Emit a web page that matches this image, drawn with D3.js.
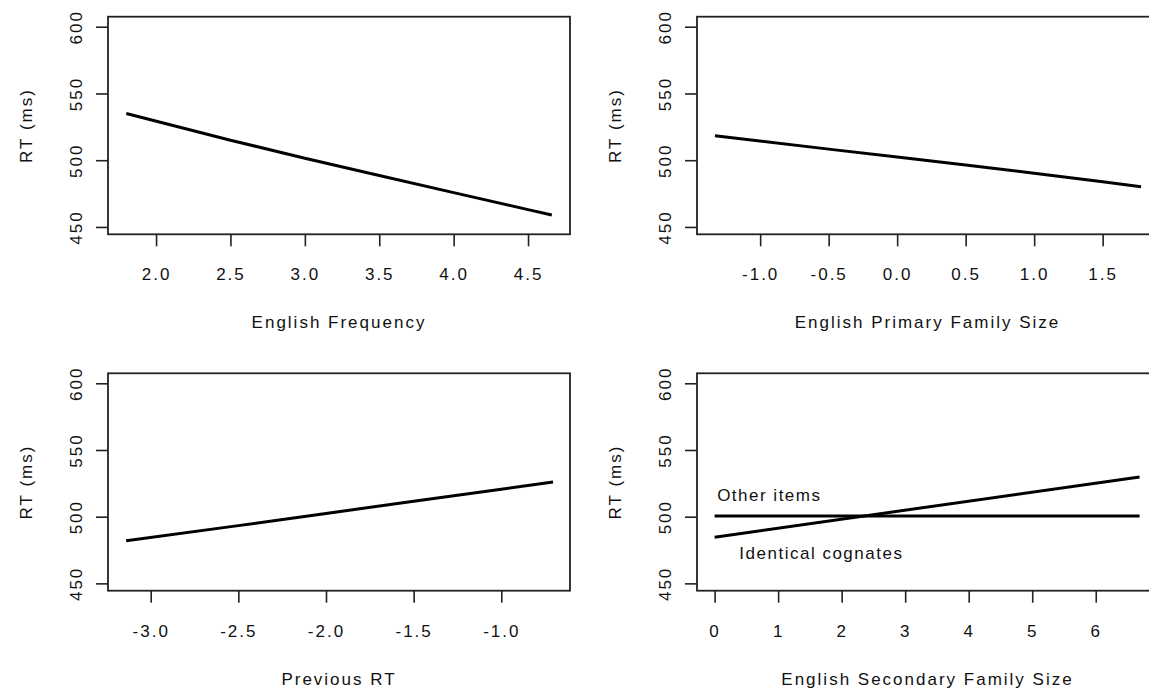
<!DOCTYPE html>
<html>
<head>
<meta charset="utf-8">
<script src="https://cdn.jsdelivr.net/npm/d3@7"></script>
<style>
  html, body { margin: 0; padding: 0; background: #fff; }
  svg { display: block; }
  text { font-family: "Liberation Sans", Arial, sans-serif; fill: #111; }
</style>
</head>
<body>
<div id="chart"></div>
<script>
// values
const yTicks = [450, 500, 550, 600];

const freqX = [1.80, 2.5, 3.0, 3.5, 4.0, 4.5, 4.66];
const freqRT = [535, 515, 501.5, 488.5, 475.7, 463, 459];
const freqTicks = [2.0, 2.5, 3.0, 3.5, 4.0, 4.5];

const primX = [-1.33, -0.5, 0.0, 0.5, 1.0, 1.5, 1.78];
const primRT = [518.4, 508.3, 502.4, 496.4, 490.2, 483.9, 480.2];
const primTicks = [-1.0, -0.5, 0.0, 0.5, 1.0, 1.5];

const prevX = [-3.14, -2.5, -2.0, -1.5, -1.0, -0.705];
const prevRT = [481.9, 493.3, 502.4, 511.6, 520.6, 526];
const prevTicks = [-3.0, -2.5, -2.0, -1.5, -1.0];

const secX = [0, 6.69];
const otherRT = [500.5, 500.5];
const identRT = [484.6, 529.8];
const secTicks = [0, 1, 2, 3, 4, 5, 6];
const secLabels = [
  {text: "Other items", x: 0.04, y: 512},
  {text: "Identical cognates", x: 0.39, y: 468.5}
];

const W = 1149, H = 692;
const svg = d3.select("#chart").append("svg")
  .attr("width", W).attr("height", H);

// plot regions (the right column runs past the picture edge, as in the original)
const cols = [{x0: 108, x1: 570}, {x0: 697, x1: 1158}];
const rows = [{y0: 16.7, y1: 234.3}, {y0: 373.3, y1: 590.7}];
const yDomain = [444.5, 607.5];

// plain hyphen for negatives, like R
const oneDec = d => d.toFixed(1);
const whole = d => d.toFixed(0);

const panels = [
  {col: 0, row: 0, xDomain: [1.677, 4.782], ticks: freqTicks, fmt: oneDec,
   title: "English Frequency", series: [[freqX, freqRT]]},
  {col: 1, row: 0, xDomain: [-1.461, 1.904], ticks: primTicks, fmt: oneDec,
   title: "English Primary Family Size", series: [[primX, primRT]]},
  {col: 0, row: 1, xDomain: [-3.2436, -0.608], ticks: prevTicks, fmt: oneDec,
   title: "Previous RT", series: [[prevX, prevRT]]},
  {col: 1, row: 1, xDomain: [-0.277, 6.98], ticks: secTicks, fmt: whole,
   title: "English Secondary Family Size", series: [[secX, otherRT], [secX, identRT]],
   labels: secLabels}
];

panels.forEach(p => {
  const c = cols[p.col], r = rows[p.row];
  const x = d3.scaleLinear().domain(p.xDomain).range([c.x0, c.x1]);
  const y = d3.scaleLinear().domain(yDomain).range([r.y1, r.y0]);
  const g = svg.append("g");

  // x axis
  const xa = g.append("g")
    .attr("transform", `translate(0,${r.y1})`)
    .call(d3.axisBottom(x).tickValues(p.ticks).tickFormat(p.fmt).tickSize(12).tickPadding(22));
  xa.select(".domain").remove();
  xa.selectAll("line").attr("stroke", "#222").attr("stroke-width", 1.6);
  xa.selectAll("text")
    .attr("font-size", 17).attr("letter-spacing", "2px")
    .attr("font-family", "Liberation Sans, Arial, sans-serif")
    .attr("fill", "#111");

  // y axis, labels turned like in R
  const ya = g.append("g")
    .attr("transform", `translate(${c.x0},0)`)
    .call(d3.axisLeft(y).tickValues(yTicks).tickSize(12));
  ya.select(".domain").remove();
  ya.selectAll("line").attr("stroke", "#222").attr("stroke-width", 1.6);
  ya.selectAll("text")
    .attr("x", null).attr("dy", null)
    .attr("transform", "translate(-26,0) rotate(-90)")
    .attr("text-anchor", "middle")
    .attr("font-size", 17).attr("letter-spacing", "2px")
    .attr("font-family", "Liberation Sans, Arial, sans-serif")
    .attr("fill", "#111");

  // box
  g.append("rect")
    .attr("x", c.x0).attr("y", r.y0)
    .attr("width", c.x1 - c.x0).attr("height", r.y1 - r.y0)
    .attr("fill", "none").attr("stroke", "#222").attr("stroke-width", 1.8);

  // titles
  g.append("text")
    .attr("x", (c.x0 + c.x1) / 2).attr("y", r.y1 + 94)
    .attr("text-anchor", "middle")
    .attr("font-size", 17).attr("letter-spacing", "2px")
    .text(p.title);
  g.append("text")
    .attr("transform", `translate(${c.x0 - 76},${(r.y0 + r.y1) / 2}) rotate(-90)`)
    .attr("text-anchor", "middle")
    .attr("font-size", 17).attr("letter-spacing", "2px")
    .text("RT (ms)");

  // fitted lines
  const line = d3.line().x(d => x(d[0])).y(d => y(d[1]));
  p.series.forEach(([xs, ys]) => {
    g.append("path")
      .datum(xs.map((v, i) => [v, ys[i]]))
      .attr("d", line)
      .attr("fill", "none")
      .attr("stroke", "#000")
      .attr("stroke-width", 3);
  });

  (p.labels || []).forEach(l => {
    g.append("text")
      .attr("x", x(l.x)).attr("y", y(l.y))
      .attr("font-size", 17).attr("letter-spacing", "1.5px")
      .text(l.text);
  });
});
</script>
</body>
</html>
